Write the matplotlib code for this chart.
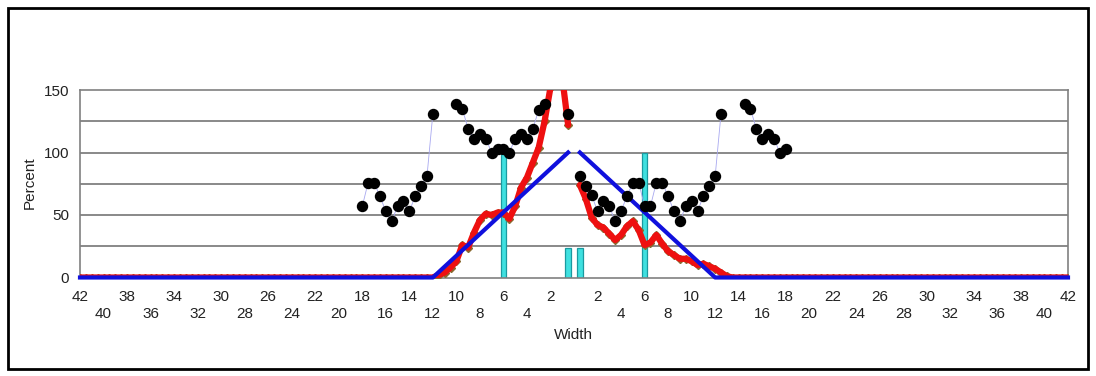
import numpy as np
import matplotlib
matplotlib.use("Agg")
import matplotlib.pyplot as plt
from matplotlib.patches import Rectangle

plt.rcParams['font.family'] = ['Liberation Sans', 'DejaVu Sans']

# ---------------- data ----------------
# x positions (width, signed: left side negative, right side positive)
dot_x = [-18, -17.5, -17, -16.5, -16, -15.5, -15, -14.5, -14, -13.5, -13, -12.5, -12,
         -11.5, -11, -10.5,
         -10, -9.5, -9, -8.5, -8, -7.5, -7, -6.5, -6, -5.5, -5, -4.5, -4, -3.5, -3, -2.5,
         -2, -1.5, -1, -0.5, 0,
         0.5, 1, 1.5, 2, 2.5, 3, 3.5, 4, 4.5, 5, 5.5, 6, 6.5, 7, 7.5, 8, 8.5, 9, 9.5,
         10, 10.5, 11, 11.5, 12, 12.5, 13, 13.5, 14,
         14.5, 15, 15.5, 16, 16.5, 17, 17.5, 18]
dot_y = [57, 76, 76, 65, 53, 45, 57, 61, 53, 65, 73, 81, 131,
         np.nan, np.nan, np.nan,
         139, 135, 119, 111, 115, 111, 100, 103, 103, 100, 111, 115, 111, 119, 134, 139,
         np.nan, np.nan, np.nan, 131, np.nan,
         81, 73, 66, 53, 61, 57, 45, 53, 65, 76, 76, 57, 57, 76, 76, 65, 53, 45, 57,
         61, 53, 65, 73, 81, 131, np.nan, np.nan, np.nan,
         139, 135, 119, 111, 115, 111, 100, 103]

# red measured profile (0.5 steps); zero elsewhere
red_left_x = [-12.5, -12, -11.5, -11, -10.5, -10, -9.5, -9, -8.5, -8, -7.5, -7, -6.5,
              -6, -5.5, -5, -4.5, -4, -3.5, -3, -2.5, -2, -1.5, -1, -0.5]
red_left_y = [0, 0, 2, 4, 8, 13, 26, 24, 36, 46, 51, 50, 52,
              52, 47, 57, 72, 80, 92, 104, 125, 152, 220, 160, 122]
red_right_x = [0.5, 1, 1.5, 2, 2.5, 3, 3.5, 4, 4.5, 5, 5.5, 6, 6.5, 7, 7.5, 8, 8.5,
               9, 9.5, 10, 10.5, 11, 11.5, 12, 12.5, 13, 13.5]
red_right_y = [74, 63, 48, 42, 40, 35, 30, 34, 41, 45, 38, 26, 28, 34, 27, 21, 18,
               15, 15, 13, 10, 11, 9, 7, 4, 1, 0]

# blue reference triangle (vertices)
blue_x = [-42, -12, -0.5, 0, 0.5, 12, 42]
blue_y = [0, 0, 100, np.nan, 100, 0, 0]

# cyan bars
bar_x = [-6, -0.5, 0.5, 6]
bar_h = [100, 24, 24, 100]

x_ticks = list(range(-42, 43, 2))
x_labels = ['' if t == 0 else str(abs(t)) for t in x_ticks]

# build red full series
left_base = [v for v in np.arange(-42, -12.5, 0.5)]
right_base = [v for v in np.arange(14, 42.5, 0.5)]
red_x = left_base + red_left_x + [0] + red_right_x + right_base
red_y = [0] * len(left_base) + red_left_y + [np.nan] + red_right_y + [0] * len(right_base)

# ---------------- figure ----------------
W, H = 1096, 376
fig = plt.figure(figsize=(W / 100, H / 100), dpi=100)
ax = fig.add_axes([80 / W, 1 - 277.5 / H, (1068 - 80) / W, (277.5 - 90) / H])

ax.set_xlim(-42, 42)
ax.set_ylim(0, 150)

for gy in [25, 50, 75, 100, 125]:
    ax.axhline(gy, color='#808080', lw=1.3, zorder=0)

ax.bar(bar_x, bar_h, width=0.45, color='#3fe0e0', edgecolor='#1a9aa0', lw=0.9, zorder=2)
ax.plot(red_x, red_y, ls='none', marker='D', ms=4.2, color='#8a6a30', zorder=2.8)
ax.plot(red_x, red_y, color='#ee1010', lw=4.5, zorder=3, solid_capstyle='round',
        solid_joinstyle='round')
ax.plot(blue_x, blue_y, color='#1010dd', lw=3, zorder=4, clip_on=False)
ax.plot(dot_x, dot_y, color='#a8a8f0', lw=0.6, zorder=5)
ax.plot(dot_x, dot_y, ls='none', marker='o', ms=7.2, color='black', zorder=6)

for s in ax.spines.values():
    s.set_color('#808080')
    s.set_linewidth(1.2)

ax.set_yticks([0, 50, 100, 150])
ax.set_yticklabels(['0', '50', '100', '150'])
ax.tick_params(axis='y', length=0, pad=8, labelsize=11, labelcolor='#222222')

top_t = x_ticks[0::2]
top_l = x_labels[0::2]
bot_t = x_ticks[1::2]
bot_l = x_labels[1::2]
ax.set_xticks(top_t)
ax.set_xticklabels(top_l)
ax.set_xticks(bot_t, minor=True)
ax.set_xticklabels(bot_l, minor=True)
ax.tick_params(axis='x', which='major', length=0, pad=9, labelsize=11, labelcolor='#222222')
ax.tick_params(axis='x', which='minor', length=0, pad=21.5, labelsize=11, labelcolor='#222222')

fig.text(30 / W, 1 - 183 / H, 'Percent', rotation=90, ha='center', va='center',
         fontsize=11, color='#222222')
fig.text(573 / W, 1 - 335 / H, 'Width', ha='center', va='center', fontsize=11,
         color='#222222')

fig.patches.append(Rectangle((8 / W, 1 - 369 / H), (1088 - 8) / W, (369 - 8) / H,
                             transform=fig.transFigure, fill=False, ec='black', lw=2))

fig.savefig('out.png', dpi=100)
